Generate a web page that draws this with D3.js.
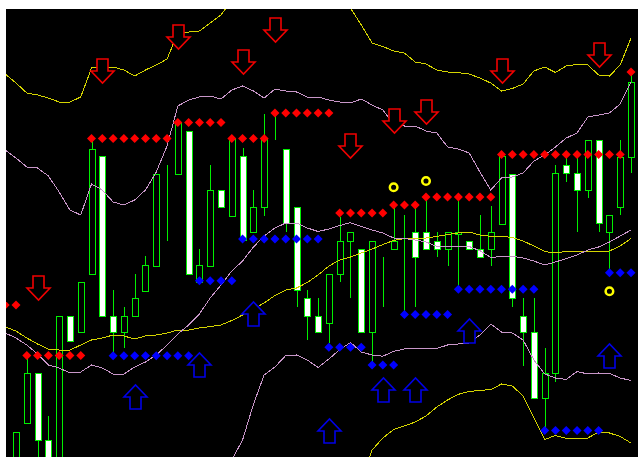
<!DOCTYPE html>
<html>
<head>
<meta charset="utf-8">
<script src="https://cdn.jsdelivr.net/npm/d3@7"></script>
<style>
    html, body { margin: 0; padding: 0; background: #ffffff; }
    svg { display: block; }
</style>
</head>
<body>
<div id="chart"></div>
<script>
// candles, bars 0..57
var opens  = [1030, 1077, 1127, 1060, 1030, 1184, 1168, 1226, 1344, 1184, 1168, 1184, 1209, 1234, 1319, 1326, 1369, 1218, 1234, 1310,
              1284, 1344, 1268, 1293, 1360, 1351, 1293, 1202, 1184, 1177, 1226, 1259, 1251, 1168, 1243, 1251, 1262, 1268, 1268, 1259,
              1251, 1266, 1259, 1251, 1251, 1276, 1326, 1184, 1168, 1102, 1127, 1335, 1327, 1310, 1360, 1268, 1293, 1343];
var highs  = [1068, 1147, 1127, 1084, 1184, 1184, 1218, 1360, 1344, 1210, 1193, 1226, 1244, 1326, 1335, 1377, 1369, 1251, 1335, 1310,
              1361, 1352, 1310, 1386, 1386, 1351, 1293, 1210, 1202, 1226, 1283, 1268, 1251, 1259, 1243, 1295, 1285, 1295, 1303, 1268,
              1268, 1300, 1259, 1285, 1294, 1346, 1326, 1202, 1202, 1152, 1335, 1343, 1343, 1360, 1360, 1285, 1360, 1428];
var lows   = [1025, 1077, 1040, 1035, 1025, 1159, 1168, 1226, 1184, 1147, 1152, 1184, 1209, 1234, 1259, 1326, 1226, 1218, 1234, 1293,
              1284, 1260, 1268, 1284, 1360, 1268, 1193, 1160, 1168, 1157, 1218, 1202, 1168, 1135, 1193, 1251, 1188, 1193, 1251, 1243,
              1234, 1211, 1251, 1243, 1234, 1276, 1193, 1134, 1102, 1070, 1118, 1318, 1268, 1302, 1268, 1227, 1285, 1327];
var closes = [1068, 1127, 1060, 1038, 1184, 1159, 1218, 1351, 1184, 1168, 1184, 1202, 1235, 1326, 1319, 1377, 1226, 1235, 1310, 1293,
              1361, 1260, 1293, 1361, 1360, 1277, 1210, 1184, 1168, 1226, 1259, 1268, 1168, 1259, 1243, 1259, 1262, 1243, 1251, 1251,
              1268, 1268, 1251, 1243, 1268, 1344, 1202, 1168, 1102, 1127, 1327, 1327, 1310, 1360, 1277, 1285, 1343, 1418];

// indicator series start one bar earlier (bar -1, cut by the left edge)
var firstBar = -1;
var yellowUpper  = [1426, 1417, 1407, 1405, 1402, 1398, 1398, 1403, 1432, 1433, 1433, 1430, 1424, 1430, 1435, 1441, 1467, 1468, 1469, 1477,
                    1485, 1500, 1508, 1512, 1514, 1518, 1520, 1516, 1512, 1510, 1508, 1504, 1492, 1475, 1457, 1453.5, 1449, 1447, 1438, 1436,
                    1430, 1428, 1427.3, 1426, 1422, 1417, 1409, 1411.5, 1416, 1429, 1433, 1427.5, 1434, 1435.5, 1435, 1425, 1424, 1435, 1462];
var yellowMiddle = [1173, 1169, 1162, 1156, 1151, 1150, 1150, 1155, 1160, 1162, 1165, 1164, 1161, 1164, 1165, 1167, 1170, 1170, 1172, 1173.5,
                    1175, 1179.5, 1185, 1191, 1197, 1204.5, 1210, 1212, 1217.5, 1225, 1234, 1240, 1243, 1247, 1251, 1255.5, 1259.5, 1261.5, 1261, 1262,
                    1263.5, 1265.5, 1267, 1268, 1265, 1263.7, 1263.7, 1262.5, 1259, 1254, 1248.5, 1247, 1248.7, 1248.7, 1248.7, 1248, 1249, 1254, 1261.5];
var yellowLower  = [920, 921, 917, 907, 900, 902, 902, 907, 888, 891, 897, 898, 898, 898, 895, 893, 873, 872, 875, 870,
                    865, 859, 862, 870, 880, 891, 900, 908, 923, 938, 964, 975, 993, 1019, 1050, 1062, 1070.5, 1074, 1078, 1084,
                    1093, 1100, 1105.7, 1108.5, 1109.7, 1110.3, 1116, 1114, 1104, 1082, 1060.5, 1064.5, 1061.7, 1061, 1062, 1068, 1067, 1063.5, 1057];
var plumUpper    = [1350, 1342, 1333, 1332, 1324, 1308, 1290, 1285, 1316, 1310, 1298, 1295, 1300, 1310, 1328, 1354, 1394, 1400, 1403, 1404,
                    1401, 1410, 1414, 1409, 1402, 1411, 1409, 1408, 1403, 1403, 1400, 1398, 1397, 1401, 1395, 1390, 1376, 1374, 1374, 1369,
                    1367, 1353, 1351, 1347, 1328, 1310, 1322, 1323, 1327, 1339, 1345, 1353, 1362, 1367, 1383, 1385, 1387, 1396, 1418];
var plumMiddle   = [1167, 1162, 1155, 1146, 1135, 1132, 1127, 1128, 1135, 1132, 1126, 1126, 1133, 1138, 1145, 1155, 1166, 1175, 1186, 1202,
                    1215, 1229, 1239, 1253, 1264, 1272, 1277, 1277, 1272, 1268.5, 1271, 1274.5, 1277.3, 1273.5, 1270, 1267, 1262, 1261.5, 1260, 1258,
                    1253.5, 1253, 1253.7, 1253.5, 1249.3, 1242.5, 1243.5, 1243.7, 1242, 1239, 1235, 1238, 1241.5, 1245, 1250, 1253, 1258, 1264, 1270];
var plumLower    = [984, 982, 977, 960, 946, 956, 964, 971, 954, 954, 954, 957, 966, 966, 962, 956, 938, 950, 969, 1000,
                    1029, 1040, 1060, 1095.5, 1125, 1133, 1144.5, 1145, 1140, 1132.5, 1141, 1150.3, 1157.5, 1148, 1145, 1143.8, 1148.7, 1151, 1151.3, 1151.5,
                    1151.5, 1155, 1156, 1157, 1165, 1176, 1168, 1167, 1160, 1140, 1126, 1122, 1120.5, 1128.5, 1126, 1127, 1126.5, 1122, 1119.5];

// support / resistance dots, one per bar from bar -1
var resistance = [1195, 1195, 1144.5, 1144.5, 1144.5, 1144.5, 1144.5, 1144.5, 1361.5, 1361.5, 1361.5, 1361.5, 1361.5, 1361.5, 1361.5, 1361.5,
                  1377.5, 1377.5, 1377.5, 1377.5, 1377.5, 1361.5, 1361.5, 1361.5, 1361.5, 1387, 1387, 1387, 1387, 1387, 1387,
                  1287, 1287, 1287, 1287, 1287, 1295, 1295, 1295, 1303, 1303, 1303, 1303, 1303, 1303, 1303,
                  1345.5, 1345.5, 1345.5, 1345.5, 1345.5, 1345.5, 1345.5, 1345.5, 1345.5, 1345.5, 1345.5, 1345.5, 1428];
var support = [null, null, null, null, null, null, null, null, null, null, 1144.3, 1144.3, 1144.3, 1144.3, 1144.3, 1144.3, 1144.3, 1144.3,
               1219.3, 1219.3, 1219.3, 1219.3, 1261, 1261, 1261, 1261, 1261, 1261, 1261, 1261, 1152.7, 1152.7, 1152.7, 1152.7,
               1135, 1135, 1135, 1185.5, 1185.5, 1185.5, 1185.5, 1185.5, 1210.8, 1210.8, 1210.8, 1210.8, 1210.8, 1210.8, 1210.8, 1210.8,
               1069.5, 1069.5, 1069.5, 1069.5, 1069.5, 1069.5, 1227.2, 1227.2, 1227.2];

// signal arrows (price = arrow tip) and circles
var sellBars   = [2, 8, 15, 21, 24, 31, 35, 38, 45, 54];
var sellPrices = [1200, 1417.3, 1451, 1426, 1458.3, 1342, 1367.3, 1376, 1417.3, 1433.3];
var buyBars    = [11, 17, 22, 29, 34, 37, 42, 55];
var buyPrices  = [1114.7, 1147, 1198, 1081, 1122, 1122, 1181.3, 1156];
var dotBars    = [35, 38, 55];
var dotPrices  = [1312.7, 1319, 1208.7];

var width = 638, height = 457;
var plot = {left: 6, top: 9, right: 638, bottom: 457};

var svg = d3.select("#chart").append("svg")
    .attr("width", width)
    .attr("height", height);

svg.append("rect")
    .attr("x", plot.left)
    .attr("y", plot.top)
    .attr("width", plot.right - plot.left)
    .attr("height", plot.bottom - plot.top)
    .attr("fill", "#000000");

svg.append("clipPath").attr("id", "plot-clip")
    .append("rect")
    .attr("x", plot.left)
    .attr("y", plot.top)
    .attr("width", plot.right - plot.left)
    .attr("height", plot.bottom - plot.top);

var g = svg.append("g").attr("clip-path", "url(#plot-clip)");

var x = d3.scaleLinear().domain([0, 57]).range([16, 631]);
var y = d3.scaleLinear().domain([1043, 1491]).range([plot.bottom, plot.top]);

var candles = opens.map(function(o, i) {
    return {bar: i, open: o, high: highs[i], low: lows[i], close: closes[i]};
});

function cx(bar) { return Math.round(x(bar)) + 0.5; }

var green = "#00f000";

// candles
var candle = g.append("g").attr("class", "candles")
    .selectAll("g")
    .data(candles)
    .enter()
    .append("g");

candle.append("line")
    .attr("x1", function(d) { return cx(d.bar); })
    .attr("x2", function(d) { return cx(d.bar); })
    .attr("y1", function(d) { return Math.round(y(d.high)); })
    .attr("y2", function(d) { return Math.round(y(d.low)); })
    .attr("stroke", green)
    .attr("stroke-width", 1)
    .attr("shape-rendering", "crispEdges");

candle.append("rect")
    .attr("x", function(d) { return cx(d.bar) - 3; })
    .attr("y", function(d) { return Math.round(y(Math.max(d.open, d.close))) + 0.5; })
    .attr("width", 6)
    .attr("height", function(d) { return Math.round(Math.abs(y(d.open) - y(d.close))); })
    .attr("fill", function(d) { return d.close < d.open ? "#ffffff" : "#000000"; })
    .attr("stroke", green)
    .attr("stroke-width", 1)
    .attr("shape-rendering", "crispEdges");

// bands
function band(values, color) {
    var line = d3.line()
        .x(function(d, i) { return x(i + firstBar); })
        .y(function(d) { return y(d); });
    g.append("path")
        .datum(values)
        .attr("fill", "none")
        .attr("stroke", color)
        .attr("stroke-width", 1)
        .attr("shape-rendering", "crispEdges")
        .attr("d", line);
}

var yellow = "#d4d400", plum = "#c896c8";
band(yellowUpper, yellow);
band(yellowMiddle, yellow);
band(yellowLower, yellow);
band(plumUpper, plum);
band(plumMiddle, plum);
band(plumLower, plum);

// diamonds
var diamond = "M0,-4.5L4.5,0L0,4.5L-4.5,0Z";

function dots(values, color) {
    var pts = values
        .map(function(v, i) { return {bar: i + firstBar, price: v}; })
        .filter(function(d) { return d.price !== null; });
    g.append("g")
        .selectAll("path")
        .data(pts)
        .enter()
        .append("path")
        .attr("d", diamond)
        .attr("transform", function(d) { return "translate(" + x(d.bar) + "," + y(d.price) + ")"; })
        .attr("fill", color);
}

dots(resistance, "#ff0000");
dots(support, "#0000ff");

// arrows, tip at (0,0)
var downArrow = "M-5.5,-24L5.5,-24L5.5,-12L11.5,-12L0,0L-11.5,-12L-5.5,-12Z";
var upArrow = "M-5.5,24L5.5,24L5.5,12L11.5,12L0,0L-11.5,12L-5.5,12Z";

function arrows(bars, prices, shape, color) {
    g.append("g")
        .selectAll("path")
        .data(bars)
        .enter()
        .append("path")
        .attr("d", shape)
        .attr("transform", function(d, i) { return "translate(" + cx(d) + "," + Math.round(y(prices[i])) + ")"; })
        .attr("fill", "#000000")
        .attr("stroke", color)
        .attr("stroke-width", 1.6)
        .attr("stroke-linejoin", "miter");
}

arrows(sellBars, sellPrices, downArrow, "#f00000");
arrows(buyBars, buyPrices, upArrow, "#0000e6");

// circles
g.append("g")
    .selectAll("circle")
    .data(dotBars)
    .enter()
    .append("circle")
    .attr("cx", function(d) { return x(d); })
    .attr("cy", function(d, i) { return y(dotPrices[i]); })
    .attr("r", 3.8)
    .attr("fill", "none")
    .attr("stroke", "#ffff00")
    .attr("stroke-width", 2.5);
</script>
</body>
</html>
